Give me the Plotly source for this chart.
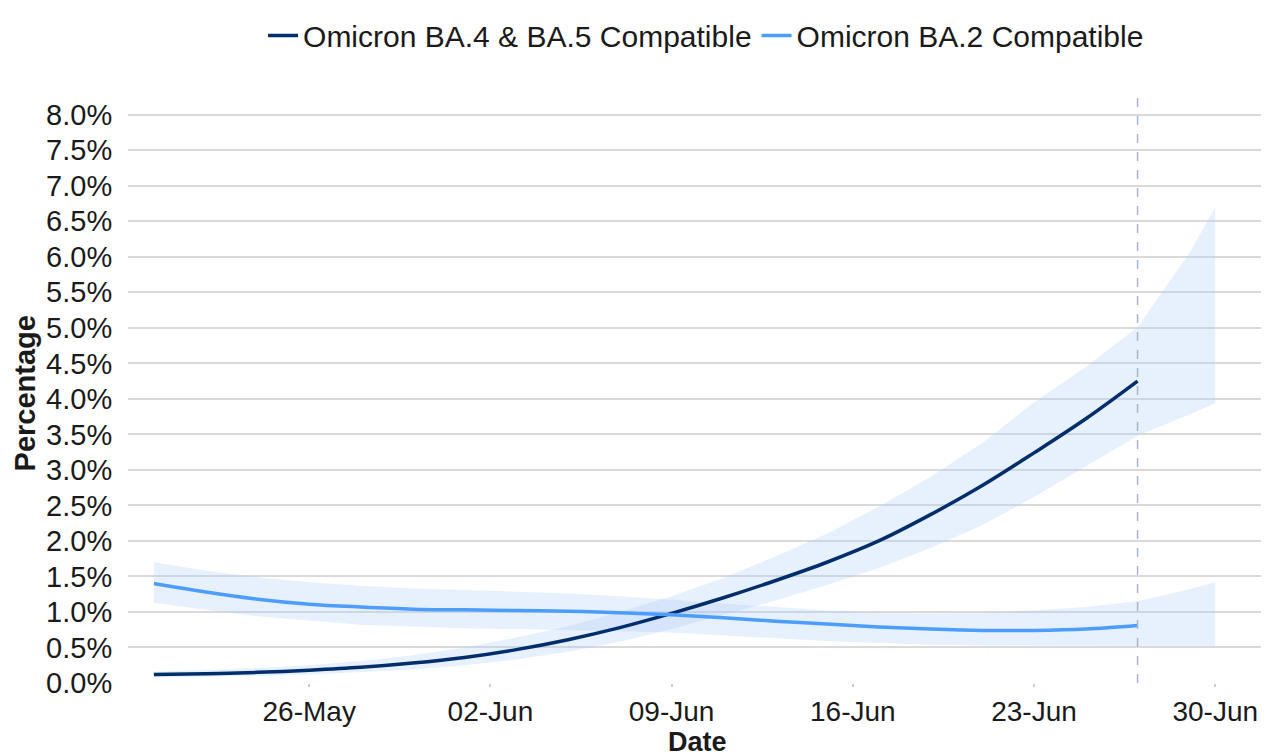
import plotly.graph_objects as go

# ---- data (percent) ----
line_dates = ["2022-05-20", "2022-05-22", "2022-05-24", "2022-05-26", "2022-05-28", "2022-05-30",
              "2022-06-01", "2022-06-03", "2022-06-05", "2022-06-07", "2022-06-09", "2022-06-11",
              "2022-06-13", "2022-06-15", "2022-06-17", "2022-06-19", "2022-06-21", "2022-06-23",
              "2022-06-25", "2022-06-27"]
band_dates = line_dates + ["2022-06-29", "2022-06-30"]

ba45 = [0.12, 0.13, 0.15, 0.18, 0.22, 0.28, 0.36, 0.47, 0.61, 0.78, 0.98, 1.20,
        1.44, 1.70, 2.00, 2.37, 2.78, 3.24, 3.72, 4.25]
ba45_upper = [0.16, 0.18, 0.21, 0.25, 0.31, 0.39, 0.50, 0.64, 0.80, 1.00, 1.22, 1.48,
              1.78, 2.10, 2.48, 2.90, 3.38, 3.95, 4.45, 5.01, 6.05, 6.70]
ba45_lower = [0.08, 0.09, 0.10, 0.12, 0.15, 0.19, 0.25, 0.33, 0.44, 0.58, 0.76, 0.96,
              1.16, 1.38, 1.62, 1.90, 2.22, 2.62, 3.05, 3.48, 3.78, 3.94]

ba2 = [1.40, 1.28, 1.18, 1.11, 1.07, 1.04, 1.03, 1.02, 1.01, 0.99, 0.96, 0.92,
       0.87, 0.83, 0.79, 0.76, 0.74, 0.74, 0.76, 0.81]
ba2_upper = [1.70, 1.58, 1.49, 1.42, 1.37, 1.33, 1.31, 1.29, 1.26, 1.22, 1.17, 1.11,
             1.06, 1.02, 0.99, 0.98, 0.99, 1.02, 1.07, 1.15, 1.32, 1.42]
ba2_lower = [1.13, 1.03, 0.94, 0.88, 0.82, 0.79, 0.77, 0.76, 0.75, 0.73, 0.71, 0.67,
             0.63, 0.59, 0.56, 0.54, 0.53, 0.52, 0.52, 0.52, 0.52, 0.52]

series_names = ["Omicron BA.4 & BA.5 Compatible", "Omicron BA.2 Compatible"]
x_tickvals = ["2022-05-26", "2022-06-02", "2022-06-09", "2022-06-16", "2022-06-23", "2022-06-30"]
y_tickvals = [i * 0.5 for i in range(17)]
y_ticktext = [f"{v:.1f}%" for v in y_tickvals]
cutoff_date = "2022-06-27"

DARK = "#002e6b"
LIGHT = "#4d9dff"
BAND = "rgba(176,205,247,0.30)"
FONT = "Liberation Sans, Arial, sans-serif"
TXT = "#1a1a1a"

fig = go.Figure()

for up, lo in [(ba45_upper, ba45_lower), (ba2_upper, ba2_lower)]:
    fig.add_trace(go.Scatter(
        x=band_dates + band_dates[::-1],
        y=up + lo[::-1],
        fill="toself", fillcolor=BAND, line=dict(width=0),
        mode="lines", showlegend=False, hoverinfo="skip"))

fig.add_trace(go.Scatter(x=line_dates, y=ba45, mode="lines", name=series_names[0],
                         line=dict(color=DARK, width=3.5, shape="spline")))
fig.add_trace(go.Scatter(x=line_dates, y=ba2, mode="lines", name=series_names[1],
                         line=dict(color=LIGHT, width=3.5, shape="spline")))

fig.add_shape(type="line", x0=cutoff_date, x1=cutoff_date, xref="x", yref="paper",
              y0=0, y1=1, line=dict(color="#a9b5ca", width=1.5, dash="dash"))

fig.add_annotation(text="<b>Date</b>", xref="paper", yref="paper", x=0.5, y=-0.1,
                   xanchor="center", yanchor="middle", showarrow=False,
                   font=dict(size=27, color=TXT, family=FONT))
fig.add_annotation(text="<b>Percentage</b>", xref="paper", yref="paper", x=-0.0905, y=0.494,
                   xanchor="center", yanchor="middle", textangle=-90, showarrow=False,
                   font=dict(size=29, color=TXT, family=FONT))

fig.update_layout(
    width=1261, height=748,
    paper_bgcolor="white", plot_bgcolor="white",
    margin=dict(l=120, r=2, t=82, b=73),
    font=dict(family=FONT, size=29, color=TXT),
    legend=dict(orientation="h", x=0.5075, xanchor="center", y=1.105, yanchor="middle",
                font=dict(size=30, color=TXT), tracegroupgap=0),
    showlegend=True,
)

fig.update_xaxes(
    range=["2022-05-19", "2022-07-02"], tickvals=x_tickvals, tickformat="%d-%b",
    showgrid=False, zeroline=False, showline=False, automargin=False,
    ticks="outside", ticklen=3, tickcolor="#cccccc", tickwidth=1.5,
    tickfont=dict(size=28, color=TXT),
)
fig.update_yaxes(
    range=[0, 8.25], tickvals=y_tickvals, ticktext=y_ticktext,
    showgrid=True, gridcolor="#dadada", gridwidth=2,
    zeroline=False, showline=False, automargin=False,
    ticks="outside", ticklen=9, tickcolor="rgba(0,0,0,0)",
    tickfont=dict(size=29, color=TXT),
)

fig.write_html("out.html")
